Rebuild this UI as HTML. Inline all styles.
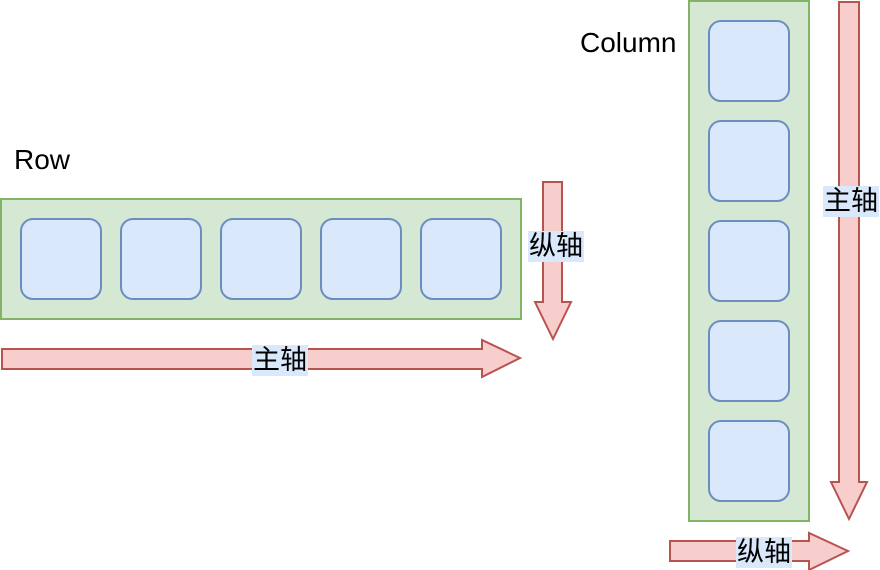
<!DOCTYPE html>
<html><head><meta charset="utf-8"><style>
body{margin:0;background:#fff;width:880px;height:570px;overflow:hidden;position:relative;font-family:"Liberation Sans","Noto Sans CJK SC",sans-serif;}
.t{position:absolute;font-size:28px;line-height:31px;color:#000;white-space:nowrap}
.l{position:absolute;background:#dae8fc;font-size:27px;line-height:31px;height:31px;text-align:center;color:#000;font-family:"Liberation Sans","Noto Sans CJK SC",sans-serif;overflow:visible;white-space:nowrap}
</style></head><body>
<svg width="880" height="570" style="position:absolute;left:0;top:0">
<g stroke-width="2">
<rect x="1" y="199" width="520" height="120" fill="#d5e8d4" stroke="#82b366"/>
<g fill="#dae8fc" stroke="#6c8ebf">
<rect x="21" y="219" width="80" height="80" rx="12"/>
<rect x="121" y="219" width="80" height="80" rx="12"/>
<rect x="221" y="219" width="80" height="80" rx="12"/>
<rect x="321" y="219" width="80" height="80" rx="12"/>
<rect x="421" y="219" width="80" height="80" rx="12"/>
</g>
<rect x="689" y="1" width="120" height="520" fill="#d5e8d4" stroke="#82b366"/>
<g fill="#dae8fc" stroke="#6c8ebf">
<rect x="709" y="21" width="80" height="80" rx="12"/>
<rect x="709" y="121" width="80" height="80" rx="12"/>
<rect x="709" y="221" width="80" height="80" rx="12"/>
<rect x="709" y="321" width="80" height="80" rx="12"/>
<rect x="709" y="421" width="80" height="80" rx="12"/>
</g>
<g fill="#f8cecc" stroke="#b85450">
<polygon points="2,349 482,349 482,340 520,358 482,377 482,369 2,369"/>
<polygon points="543,182 562,182 562,302 571,302 553,339 535,302 543,302"/>
<polygon points="839,2 859,2 859,482 867,482 849,519 831,482 839,482"/>
<polygon points="670,541 809,541 809,533 848,551 809,570 809,561 670,561"/>
</g>
</g>
</svg>
<div class="t" style="left:14px;top:144px">Row</div>
<div class="t" style="left:580px;top:27px">Column</div>
<div class="l" style="left:252px;top:345px;width:56px">主轴</div>
<div class="l" style="left:528px;top:231px;width:56px">纵轴</div>
<div class="l" style="left:823px;top:186px;width:56px">主轴</div>
<div class="l" style="left:736px;top:537px;width:56px">纵轴</div>
</body></html>
